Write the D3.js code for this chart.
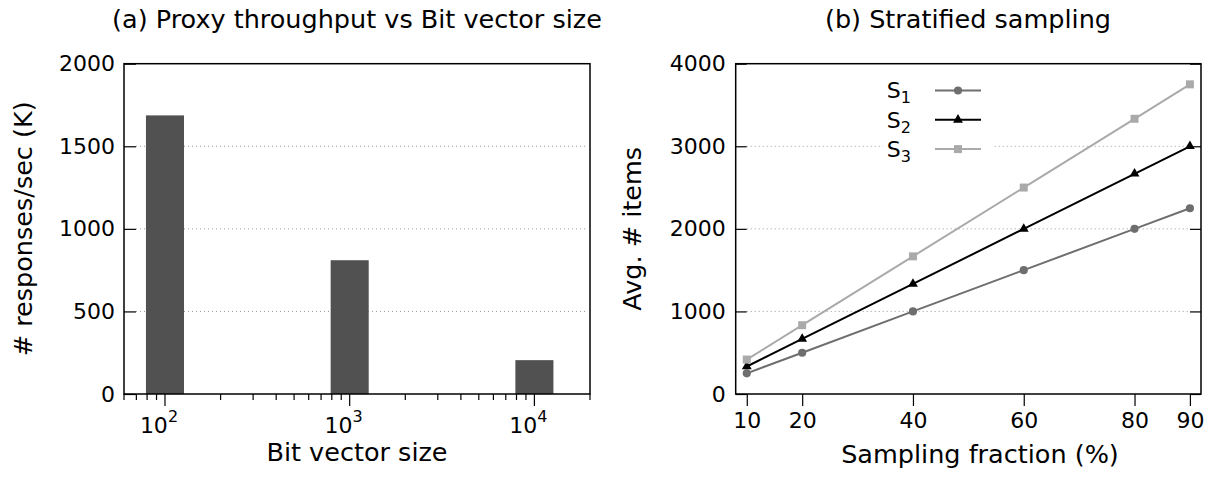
<!DOCTYPE html>
<html>
<head>
<meta charset="utf-8">
<script src="https://cdn.jsdelivr.net/npm/d3@7"></script>
<style>
  body { margin: 0; background: #fff; }
  text { font-family: "DejaVu Sans", sans-serif; fill: #000; }
</style>
</head>
<body>
<div id="chart"></div>
<script>
// (a) proxy throughput
const bitSizes = [100, 1000, 10000];
const throughput = [1687, 810, 205];
const throughputTicks = [0, 500, 1000, 1500, 2000];

// (b) stratified sampling
const fractions = [10, 20, 40, 60, 80, 90];
const s1 = [250, 500, 1000, 1500, 2000, 2250];
const s2 = [333, 667, 1333, 2000, 2667, 3000];
const s3 = [417, 833, 1667, 2500, 3333, 3750];
const itemTicks = [0, 1000, 2000, 3000, 4000];

const width = 1212, height = 477;
const plotTop = 63.7, plotBottom = 394;
const tickFont = 22, labelFont = 25.5;

const svg = d3.select("#chart").append("svg")
  .attr("width", width)
  .attr("height", height);

// ---------- panel (a) ----------
const ax = d3.scaleLog().domain([60, 20000]).range([124, 590]);
const ay = d3.scaleLinear().domain([0, 2000]).range([plotBottom, plotTop]);

// dotted grid
svg.selectAll(".grid-a")
  .data(throughputTicks.filter(d => d > 0 && d < 2000))
  .enter().append("line")
  .attr("x1", ax.range()[0] + 12)
  .attr("x2", ax.range()[1] - 4)
  .attr("y1", d => ay(d))
  .attr("y2", d => ay(d))
  .attr("stroke", "#999")
  .attr("stroke-dasharray", "1,3");

// bars, constant pixel width on log axis
const decade = ax(1000) - ax(100);
const halfBar = decade * 0.103;
svg.selectAll(".bar")
  .data(bitSizes)
  .enter().append("rect")
  .attr("x", d => ax(d) - halfBar)
  .attr("width", halfBar * 2)
  .attr("y", (d, i) => ay(throughput[i]))
  .attr("height", (d, i) => ay(0) - ay(throughput[i]))
  .attr("fill", "#515151");

// frame
svg.append("rect")
  .attr("x", ax.range()[0]).attr("y", plotTop)
  .attr("width", ax.range()[1] - ax.range()[0])
  .attr("height", plotBottom - plotTop)
  .attr("fill", "none").attr("stroke", "#000").attr("stroke-width", 1.5);

// y axis (inward ticks)
const ayAxis = svg.append("g")
  .attr("transform", `translate(${ax.range()[0]},0)`)
  .call(d3.axisLeft(ay).tickValues(throughputTicks).tickFormat(d3.format("d"))
    .tickSize(-12).tickPadding(9));
ayAxis.select(".domain").remove();
ayAxis.selectAll("text").attr("font-size", tickFont).attr("font-family", "DejaVu Sans");
ayAxis.selectAll("line").attr("stroke-width", 1.2);

// x axis: minor + major log ticks
const minorTicks = [];
[10, 100, 1000, 10000].forEach(base => {
  for (let m = 2; m <= 9; m++) {
    const v = base * m;
    if (v >= 60 && v <= 20000) minorTicks.push(v);
  }
});
svg.selectAll(".minor-a")
  .data(minorTicks)
  .enter().append("line")
  .attr("x1", d => ax(d)).attr("x2", d => ax(d))
  .attr("y1", plotBottom).attr("y2", plotBottom + 6)
  .attr("stroke", "#000").attr("stroke-width", 1.2);
svg.selectAll(".major-a")
  .data(bitSizes)
  .enter().append("line")
  .attr("x1", d => ax(d)).attr("x2", d => ax(d))
  .attr("y1", plotBottom).attr("y2", plotBottom + 12)
  .attr("stroke", "#000").attr("stroke-width", 1.2);

const majorLabels = svg.selectAll(".major-label-a")
  .data(bitSizes)
  .enter().append("text")
  .attr("x", d => ax(d) - 6)
  .attr("y", 433)
  .attr("text-anchor", "middle")
  .attr("font-size", tickFont);
majorLabels.append("tspan").text("10");
majorLabels.append("tspan")
  .attr("dy", -11).attr("font-size", 16)
  .text(d => Math.round(Math.log10(d)));

svg.append("text")
  .attr("x", 357).attr("y", 28)
  .attr("text-anchor", "middle").attr("font-size", labelFont)
  .text("(a) Proxy throughput vs Bit vector size");

svg.append("text")
  .attr("x", 357).attr("y", 461)
  .attr("text-anchor", "middle").attr("font-size", labelFont)
  .text("Bit vector size");

svg.append("text")
  .attr("transform", `translate(32,${(plotTop + plotBottom) / 2}) rotate(-90)`)
  .attr("text-anchor", "middle").attr("font-size", labelFont)
  .text("# responses/sec (K)");

// ---------- panel (b) ----------
const bx = d3.scaleLinear().domain([8, 92]).range([735.7, 1201]);
const by = d3.scaleLinear().domain([0, 4000]).range([plotBottom, plotTop]);

svg.selectAll(".grid-b")
  .data(itemTicks.filter(d => d > 0 && d < 4000))
  .enter().append("line")
  .attr("x1", bx.range()[0] + 11)
  .attr("x2", bx.range()[1] - 11)
  .attr("y1", d => by(d))
  .attr("y2", d => by(d))
  .attr("stroke", "#999")
  .attr("stroke-dasharray", "1,3");

svg.append("rect")
  .attr("x", bx.range()[0]).attr("y", plotTop)
  .attr("width", bx.range()[1] - bx.range()[0])
  .attr("height", plotBottom - plotTop)
  .attr("fill", "none").attr("stroke", "#000").attr("stroke-width", 1.5);

const byAxis = svg.append("g")
  .attr("transform", `translate(${bx.range()[0]},0)`)
  .call(d3.axisLeft(by).tickValues(itemTicks).tickFormat(d3.format("d"))
    .tickSize(-11).tickPadding(10));
byAxis.select(".domain").remove();
byAxis.selectAll("text").attr("font-size", tickFont).attr("font-family", "DejaVu Sans");
byAxis.selectAll("line").attr("stroke-width", 1.2);

const byAxisR = svg.append("g")
  .attr("transform", `translate(${bx.range()[1]},0)`)
  .call(d3.axisRight(by).tickValues(itemTicks).tickSize(-11).tickFormat(""));
byAxisR.select(".domain").remove();
byAxisR.selectAll("line").attr("stroke-width", 1.2);

const bxAxis = svg.append("g")
  .attr("transform", `translate(0,${plotBottom})`)
  .call(d3.axisBottom(bx).tickValues(fractions).tickSize(12).tickPadding(6));
bxAxis.select(".domain").remove();
bxAxis.selectAll("text").attr("font-size", tickFont).attr("font-family", "DejaVu Sans");
bxAxis.selectAll("line").attr("stroke-width", 1.2);

const series = [
  { name: "1", values: s1, color: "#6e6e6e", symbol: d3.symbolCircle, size: 52 },
  { name: "2", values: s2, color: "#000000", symbol: d3.symbolTriangle, size: 42 },
  { name: "3", values: s3, color: "#aaaaaa", symbol: d3.symbolSquare, size: 64 }
];

const line = d3.line()
  .x((d, i) => bx(fractions[i]))
  .y(d => by(d));

series.forEach(s => {
  svg.append("path")
    .datum(s.values)
    .attr("fill", "none")
    .attr("stroke", s.color)
    .attr("stroke-width", 2)
    .attr("d", line);
  svg.selectAll(null)
    .data(s.values)
    .enter().append("path")
    .attr("transform", (d, i) => `translate(${bx(fractions[i])},${by(d)})`)
    .attr("d", d3.symbol().type(s.symbol).size(s.size))
    .attr("fill", s.color);
});

// legend
svg.append("rect")
  .attr("x", 883).attr("y", 75)
  .attr("width", 110).attr("height", 88)
  .attr("fill", "#fff");

series.forEach((s, i) => {
  const ly = 90.5 + i * 29.3;
  const t = svg.append("text")
    .attr("x", 911).attr("y", ly + 7.8)
    .attr("text-anchor", "end").attr("font-size", tickFont);
  t.append("tspan").text("S");
  t.append("tspan").attr("dy", 5).attr("font-size", 16).text(s.name);
  svg.append("line")
    .attr("x1", 935).attr("x2", 981)
    .attr("y1", ly).attr("y2", ly)
    .attr("stroke", s.color).attr("stroke-width", 2);
  svg.append("path")
    .attr("transform", `translate(958,${ly})`)
    .attr("d", d3.symbol().type(s.symbol).size(s.size))
    .attr("fill", s.color);
});

svg.append("text")
  .attr("x", 968).attr("y", 28)
  .attr("text-anchor", "middle").attr("font-size", labelFont)
  .text("(b) Stratified sampling");

svg.append("text")
  .attr("x", 980).attr("y", 463)
  .attr("text-anchor", "middle").attr("font-size", labelFont)
  .text("Sampling fraction (%)");

svg.append("text")
  .attr("transform", `translate(641,${(plotTop + plotBottom) / 2}) rotate(-90)`)
  .attr("text-anchor", "middle").attr("font-size", labelFont)
  .text("Avg. # items");
</script>
</body>
</html>
